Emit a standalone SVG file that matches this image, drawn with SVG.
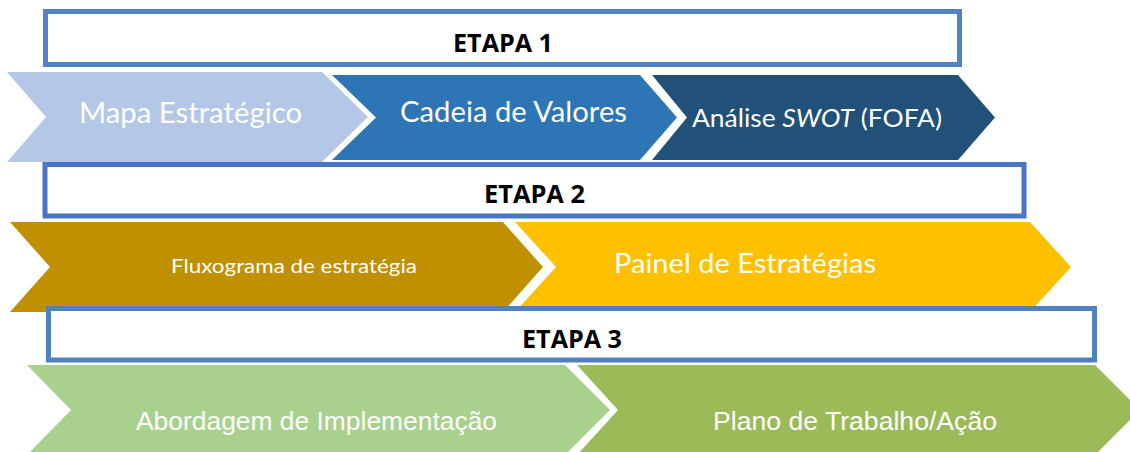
<svg xmlns="http://www.w3.org/2000/svg" width="1130" height="452" viewBox="0 0 1130 452">
<style>
.box{fill:#FFFFFF;stroke-width:5}
.b1{stroke:#5282C0}
.b2{stroke:#4775C8}
.b3{stroke:#4F81BD}
.etapa{font-family:"Open Sans",Lato,"Liberation Sans",sans-serif;font-weight:bold;font-size:25px;fill:#000000;text-anchor:middle}
.lbl{font-family:Lato,"Open Sans",sans-serif;fill:#FFFFFF;text-anchor:middle}
.arial{font-family:"Liberation Sans",Arial,sans-serif;fill:#FFFFFF;text-anchor:middle;font-size:26px}
</style>
<rect width="1130" height="452" fill="#FFFFFF"/>

<g id="mapa-estrategico">
<polygon points="7,72 322,72 368,117 322,162 7,162 46,117" fill="#B4C7E7"/>
<text class="lbl" x="190.5" y="123" font-size="28" textLength="223" lengthAdjust="spacingAndGlyphs">Mapa Estratégico</text>
</g>
<g id="cadeia-valores">
<polygon points="332,75 640,75 677,117.5 640,160 332,160 376,117.5" fill="#2E75B6"/>
<text class="lbl" x="513.5" y="122" font-size="28" textLength="227" lengthAdjust="spacingAndGlyphs">Cadeia de Valores</text>
</g>
<g id="analise-swot">
<polygon points="652,75 958,75 995,117.5 958,160 652,160 687,117.5" fill="#215078"/>
<text class="lbl" x="817" y="127" font-size="25" textLength="250" lengthAdjust="spacingAndGlyphs">Análise <tspan font-style="italic">SWOT</tspan> (FOFA)</text>
</g>

<g id="fluxograma">
<polygon points="10,222 503,222 543,267 503,312 10,312 50,267" fill="#BF9000"/>
<text class="lbl" x="294" y="273" font-size="19.5" textLength="246" lengthAdjust="spacingAndGlyphs">Fluxograma de estratégia</text>
</g>
<g id="painel-estrategias">
<polygon points="515,222 1030,222 1071,267 1030,312 515,312 556,267" fill="#FFC000"/>
<text class="lbl" x="745" y="273" font-size="27" textLength="262" lengthAdjust="spacingAndGlyphs">Painel de Estratégias</text>
</g>

<g id="abordagem">
<polygon points="27,365 565,365 610,410 565,455 27,455 71,410" fill="#A9D18E"/>
<text class="arial" x="316.5" y="430" textLength="361" lengthAdjust="spacingAndGlyphs">Abordagem de Implementação</text>
</g>
<g id="plano-trabalho">
<polygon points="577,365 1095,365 1140,410 1095,455 577,455 618,410" fill="#9BBB59"/>
<text class="arial" x="855" y="430" textLength="284" lengthAdjust="spacingAndGlyphs">Plano de Trabalho/Ação</text>
</g>

<g id="etapa1">
<rect class="box b1" x="45.5" y="11.5" width="914" height="53"/>
<text class="etapa" x="503" y="52" textLength="100" lengthAdjust="spacingAndGlyphs">ETAPA 1</text>
</g>
<g id="etapa2">
<rect class="box b2" x="45" y="164.5" width="979" height="51.5"/>
<text class="etapa" x="534.5" y="203" textLength="101" lengthAdjust="spacingAndGlyphs">ETAPA 2</text>
</g>
<g id="etapa3">
<rect class="box b3" x="48.5" y="308.5" width="1046" height="51.5"/>
<text class="etapa" x="572" y="348" textLength="100" lengthAdjust="spacingAndGlyphs">ETAPA 3</text>
</g>
</svg>
